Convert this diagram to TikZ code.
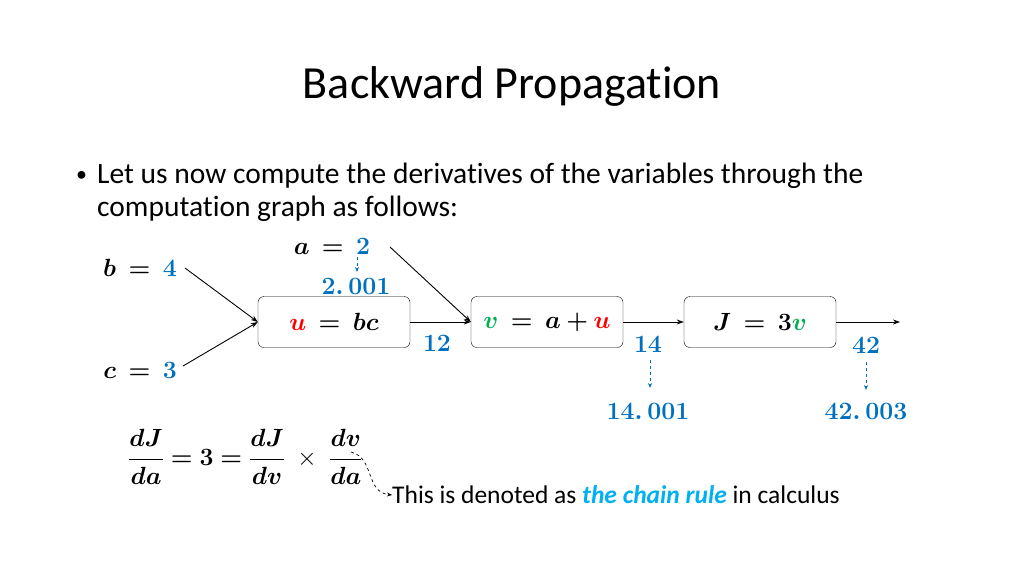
\documentclass[tikz,border=0pt]{standalone}
\usepackage{amsmath,bm}
\usepackage{fontspec}
\setmainfont[Ligatures=NoCommon]{Carlito}
\usetikzlibrary{arrows.meta}
\definecolor{cblue}{HTML}{0070C0}
\definecolor{lblue}{HTML}{00B0F0}
\definecolor{cgreen}{HTML}{00B050}
\definecolor{cred}{HTML}{FF0000}
\newcommand{\bl}[1]{\textcolor{cblue}{#1}}
\begin{document}
\begin{tikzpicture}[x=1pt,y=-1pt,
  mth/.style={font=\fontsize{27}{31}\selectfont,inner sep=0},
  opbox/.style={draw,rounded corners=6pt,minimum width=152pt,minimum height=51pt,inner sep=0,font=\fontsize{27}{31}\selectfont},
  arr/.style={-{Stealth[length=7pt,width=5pt]},line width=0.9pt},
  darr/.style={-{Stealth[length=5pt,width=4pt]},dashed,cblue,line width=0.8pt}]
\useasboundingbox (0,0) rectangle (1024,576);
\node (title) at (512,86) {\fontsize{46}{52}\selectfont Backward Propagation};
\node[anchor=west,inner sep=0] (bul) at (76,176) {\fontsize{22}{26}\selectfont •};
\node[anchor=north west,align=left,inner sep=0,font=\fontsize{29.5}{33}\selectfont] (txt) at (97,163) {Let us now compute the derivatives of the variables through the\\computation graph as follows:};
\node[mth,anchor=east] (b) at (177,268) {$\bm{b\:=\:\bl{4}}$};
\node[mth,anchor=east] (c) at (177,370) {$\bm{c\:=\:\bl{3}}$};
\node[mth] (a) at (332,246) {$\bm{a\:=\:\bl{2}}$};
\node[mth] (a2) at (356,286) {$\bm{\bl{2.\,001}}$};
\node[opbox] (u) at (334,322) {$\bm{\textcolor{cred}{u}\:=\:bc}$};
\node[opbox] (v) at (547,322) {$\bm{\textcolor{cgreen}{v}\:=\:a+\textcolor{cred}{u}}$};
\node[opbox] (J) at (760,322) {$\bm{J\:=\:3\textcolor{cgreen}{v}}$};
\coordinate (bs) at (185,268);
\coordinate (cs) at (183,366);
\coordinate (as) at (390,247);
\coordinate (out) at (900,322);
\draw[arr] (bs) -- (u.west);
\draw[arr] (cs) -- (u.west);
\draw[arr] (as) -- (v.west);
\draw[arr] (u) -- (v);
\draw[arr] (v) -- (J);
\draw[arr] (J) -- (out);
\draw[darr] (357,257) -- (357,272);
\node[mth] (n12) at (437,343) {$\bm{\bl{12}}$};
\node[mth] (n14) at (648,344) {$\bm{\bl{14}}$};
\node[mth] (n42) at (866,345) {$\bm{\bl{42}}$};
\node[mth] (n14b) at (648,411) {$\bm{\bl{14.\,001}}$};
\node[mth] (n42b) at (866,411) {$\bm{\bl{42.\,003}}$};
\draw[darr] (650,360) -- (650,388);
\draw[darr] (866,362) -- (866,390);
\node[mth,anchor=west,font=\fontsize{25}{30}\selectfont] (f) at (128,457) {$\bm{\dfrac{dJ}{da}=3=\dfrac{dJ}{dv}}\;\times\;\bm{\dfrac{dv}{da}}$};
\node[anchor=west,inner sep=0,font=\fontsize{25.5}{30}\selectfont] (note) at (392,495) {This is denoted as \textcolor{lblue}{\textbf{\textit{the chain rule}}} in calculus};
\coordinate (fs) at (351,452);
\draw[-{Stealth[length=5pt,width=4pt]},dashed,line width=0.7pt] (fs) .. controls (375,458) and (365,492) .. (note.west);
\end{tikzpicture}
\end{document}
